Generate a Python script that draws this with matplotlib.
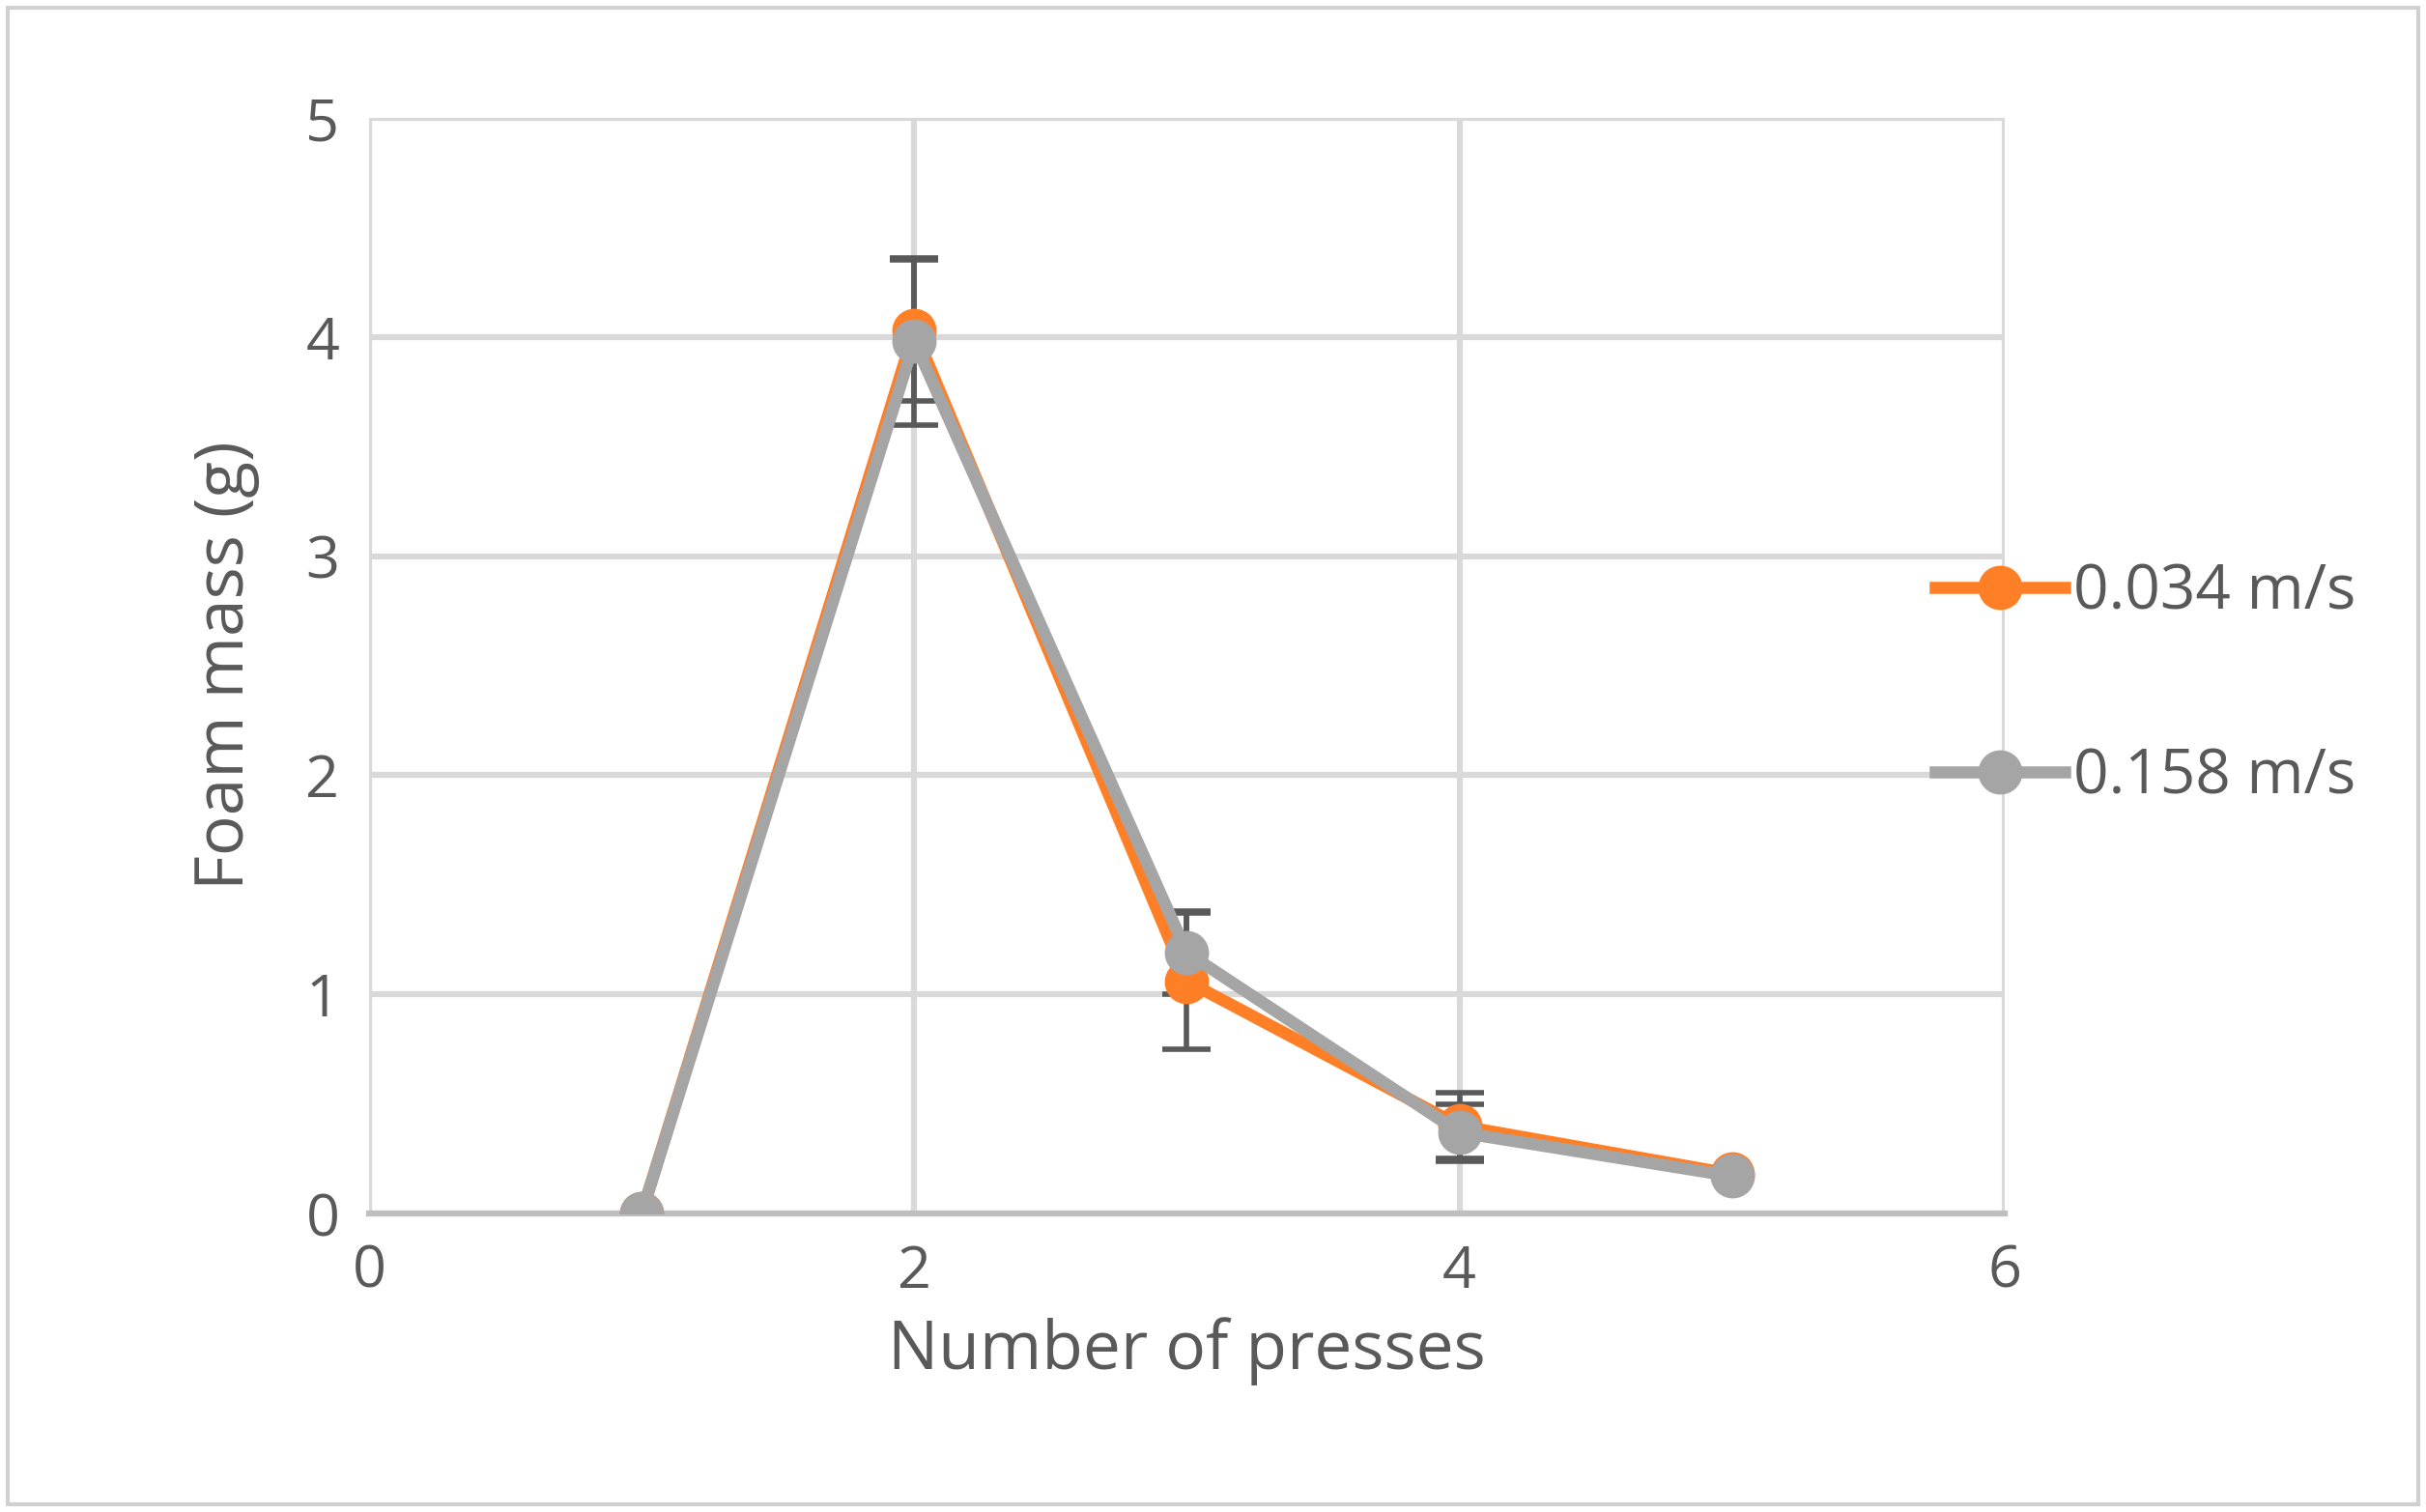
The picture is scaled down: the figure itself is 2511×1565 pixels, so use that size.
import matplotlib.pyplot as plt
from matplotlib.patches import Rectangle

presses = [1, 2, 3, 4, 5]
mass_slow = [0.0, 4.03, 1.06, 0.40, 0.18]
err_slow = [0.0, 0.32, 0.31, 0.15, 0.0]
mass_fast = [0.0, 3.98, 1.19, 0.37, 0.17]
err_fast = [0.0, 0.38, 0.19, 0.13, 0.0]
labels = ["0.034 m/s", "0.158 m/s"]

plt.rcParams['font.family'] = ['Open Sans', 'DejaVu Sans']
fig = plt.figure(figsize=(25.11, 15.65), dpi=100)
ax = fig.add_axes([382 / 2511, 1 - 1256 / 1565, (2075 - 382) / 2511, (1256 - 122) / 1565])

fig.patches.append(Rectangle((8 / 2511, 8 / 1565), 1 - 16 / 2511, 1 - 16 / 1565,
                             transform=fig.transFigure, fill=False,
                             edgecolor='#d0d0d0', linewidth=3))

# only draw bars where there is an error value
for y, e in [(mass_slow, err_slow), (mass_fast, err_fast)]:
    xs = [p for p, v in zip(presses, e) if v > 0]
    ys = [m for m, v in zip(y, e) if v > 0]
    es = [v for v in e if v > 0]
    ax.errorbar(xs, ys, yerr=es, fmt='none', ecolor='#595959',
                elinewidth=4, capsize=18, capthick=4, zorder=2)

ax.plot(presses, mass_slow, '-o', color='#ff7f27', lw=9, ms=32, label=labels[0], zorder=3)
ax.plot(presses, mass_fast, '-o', color='#a5a5a5', lw=9, ms=32, label=labels[1], zorder=4)

ax.set_xlim(0, 6)
ax.set_ylim(0, 5)
ax.set_xticks(range(0, 7, 2))
ax.set_yticks(range(0, 6))
ax.grid(True, color='#d9d9d9', lw=4.5)
ax.set_axisbelow(True)
for s in ['top', 'right', 'left']:
    ax.spines[s].set_visible(False)
ax.spines['bottom'].set_color('#bfbfbf')
ax.spines['bottom'].set_linewidth(4.5)
ax.tick_params(length=0, labelsize=44, labelcolor='#595959', pad=22)
ax.set_xlabel("Number of presses", fontsize=50, color='#595959', labelpad=12)
ax.set_ylabel("Foam mass (g)", fontsize=50, color='#595959', labelpad=34)

fig.legend(loc='center left', bbox_to_anchor=(1945 / 2511, 0.547), frameon=False,
           fontsize=46, labelcolor='#595959', handlelength=2.1, labelspacing=2.0,
           handletextpad=0.15)

fig.savefig("out.png", dpi=100, facecolor='white')
